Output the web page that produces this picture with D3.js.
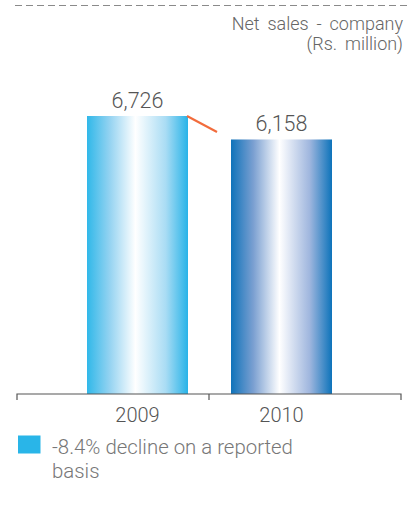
<!DOCTYPE html>
<html>
<head>
<meta charset="utf-8">
<script src="https://cdn.jsdelivr.net/npm/d3@7"></script>
<style>
  html, body { margin: 0; padding: 0; background: #fff; }
  svg { display: block; }
  text { font-family: Roboto, "Liberation Sans", sans-serif; font-weight: 300; }
</style>
</head>
<body>
<svg id="chart" width="410" height="529"></svg>
<script>
// Net sales - company (Rs. million)
const years = ["2009", "2010"];
const sales = [6726, 6158];
const valueLabels = ["6,726", "6,158"];
const titleLines = ["Net sales - company", "(Rs. million)"];
const legendLines = ["-8.4% decline on a reported", "basis"];

const svg = d3.select("#chart");
const baseY = 394;

const y = d3.scaleLinear().domain([0, 6726]).range([baseY, 116]);
const x = d3.scalePoint().domain(years).range([137.5, 281.5]);
const barW = 101;

// Gradients: white sheen through the middle of each bar
const defs = svg.append("defs");
const gradStops = [
  [["0", "#30b8e9"], ["0.22", "#92d2f1"], ["0.48", "#ffffff"], ["0.78", "#a9dcf4"], ["1", "#27b3e8"]],
  [["0", "#0f73ba"], ["0.22", "#7a9fd1"], ["0.48", "#ffffff"], ["0.78", "#9fb6de"], ["1", "#0d73ba"]]
];
gradStops.forEach((stops, i) => {
  const g = defs.append("linearGradient").attr("id", "g" + i)
    .attr("x1", "0").attr("x2", "1").attr("y1", "0").attr("y2", "0");
  stops.forEach(s => g.append("stop").attr("offset", s[0]).attr("stop-color", s[1]));
});

// Dashed rule at top
svg.append("line")
  .attr("x1", 15).attr("x2", 410).attr("y1", 5.5).attr("y2", 5.5)
  .attr("stroke", "#8a8a8a").attr("stroke-width", 1)
  .attr("stroke-dasharray", "7,4");

// Title
svg.append("g").selectAll("text").data(titleLines).join("text")
  .attr("x", 403).attr("y", (d, i) => 30 + i * 20)
  .attr("text-anchor", "end").attr("font-size", 18).attr("fill", "#666")
  .attr("word-spacing", 3.5)
  .text(d => d);

// Bars
svg.append("g").selectAll("rect").data(years).join("rect")
  .attr("x", d => x(d) - barW / 2)
  .attr("width", barW)
  .attr("y", (d, i) => y(sales[i]))
  .attr("height", (d, i) => baseY - y(sales[i]))
  .attr("fill", (d, i) => `url(#g${i})`);

// Connector between bar tops
svg.append("line")
  .attr("x1", x(years[0]) + barW / 2 - 1).attr("y1", y(sales[0]))
  .attr("x2", x(years[1]) - barW / 2 - 14).attr("y2", y(sales[0]) + 16)
  .attr("stroke", "#f26c3c").attr("stroke-width", 2);

// Value labels
svg.append("g").selectAll("text").data(years).join("text")
  .attr("x", d => x(d))
  .attr("y", (d, i) => y(sales[i]) - 8)
  .attr("text-anchor", "middle").attr("font-size", 21.5).attr("fill", "#555")
  .text((d, i) => valueLabels[i]);

// Axis baseline with tick marks at band edges
const edges = [17, 209, 401];
svg.append("path")
  .attr("d", `M${edges[0]},${baseY + 6}V${baseY}H${edges[2]}V${baseY + 6}M${edges[1]},${baseY}V${baseY + 6}`)
  .attr("fill", "none").attr("stroke", "#555").attr("stroke-width", 1.2);

// Category labels
svg.append("g").selectAll("text").data(years).join("text")
  .attr("x", d => x(d)).attr("y", 422)
  .attr("text-anchor", "middle").attr("font-size", 20).attr("fill", "#555")
  .text(d => d);

// Legend
svg.append("rect").attr("x", 18).attr("y", 435.5).attr("width", 22.5).attr("height", 18)
  .attr("fill", "#29b5e8");
svg.append("g").selectAll("text").data(legendLines).join("text")
  .attr("x", 52).attr("y", (d, i) => 454 + i * 24)
  .attr("font-size", 20.4).attr("fill", "#777")
  .text(d => d);
</script>
</body>
</html>
